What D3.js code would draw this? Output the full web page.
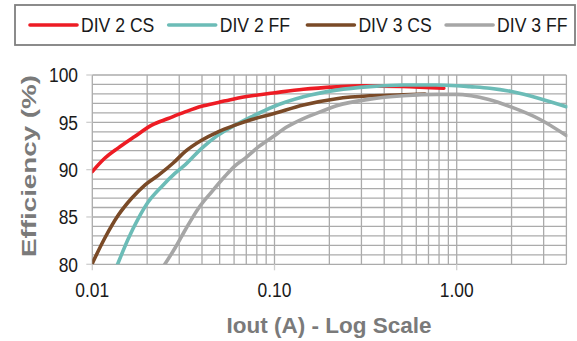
<!DOCTYPE html>
<html>
<head>
<meta charset="utf-8">
<script src="https://cdn.jsdelivr.net/npm/d3@7"></script>
<style>
  html, body { margin: 0; padding: 0; background: #fff; }
  text { font-family: "Liberation Sans", Arial, sans-serif; }
</style>
</head>
<body>
<div id="chart"></div>
<script>
// efficiency curves, Iout in A
const seriesNames = ["DIV 2 CS", "DIV 2 FF", "DIV 3 CS", "DIV 3 FF"];
const seriesColors = ["#ed1c24", "#6cbcb7", "#7a4a27", "#a6a6a6"];

const div2csX = [0.01, 0.0117, 0.0139, 0.0171, 0.0212, 0.0261, 0.0323, 0.0398, 0.0492, 0.0607, 0.075, 0.0984, 0.144, 0.219, 0.295, 0.5, 0.85];
const div2csY = [89.8, 91.2, 92.3, 93.5, 94.7, 95.4, 96.1, 96.7, 97.1, 97.5, 97.8, 98.1, 98.5, 98.75, 98.85, 98.8, 98.6];

const div2ffX = [0.0137, 0.0158, 0.0179, 0.0203, 0.024, 0.0284, 0.0323, 0.0398, 0.049, 0.0607, 0.075, 0.0984, 0.144, 0.219, 0.334, 0.509, 0.776, 1.0, 1.18, 1.52, 2.0, 2.87, 4.0];
const div2ffY = [79.9, 82.75, 84.85, 86.6, 88.2, 89.6, 90.5, 92.25, 93.65, 94.7, 95.6, 96.65, 97.7, 98.4, 98.77, 98.94, 98.94, 98.87, 98.77, 98.6, 98.25, 97.5, 96.65];

const div3csX = [0.01, 0.0117, 0.0139, 0.0164, 0.0195, 0.023, 0.0278, 0.0323, 0.0398, 0.049, 0.0607, 0.075, 0.0984, 0.144, 0.219, 0.334, 0.509, 0.67];
const div3csY = [80.1, 82.75, 85.2, 86.95, 88.4, 89.4, 90.7, 91.9, 93.1, 94.0, 94.7, 95.3, 95.9, 96.83, 97.5, 97.8, 97.9, 98.0];

const div3ffX = [0.0248, 0.0284, 0.0323, 0.0382, 0.0452, 0.0535, 0.0607, 0.0689, 0.0815, 0.0984, 0.1167, 0.144, 0.178, 0.219, 0.334, 0.509, 0.776, 1.0, 1.2, 1.5, 2.0, 2.87, 4.0];
const div3ffY = [79.9, 81.7, 83.6, 85.9, 87.65, 89.3, 90.4, 91.2, 92.4, 93.5, 94.5, 95.4, 96.1, 96.75, 97.45, 97.8, 97.95, 97.95, 97.8, 97.4, 96.6, 95.3, 93.6];

const xTicks = [0.01, 0.1, 1];
const xTickLabels = ["0.01", "0.10", "1.00"];
const yTicks = [80, 85, 90, 95, 100];

const allX = [div2csX, div2ffX, div3csX, div3ffX];
const allY = [div2csY, div2ffY, div3csY, div3ffY];

const width = 577, height = 341;
const plot = { left: 92.3, right: 566.4, top: 75, bottom: 264.3 };

const svg = d3.select("#chart").append("svg")
  .attr("width", width)
  .attr("height", height);

const x = d3.scaleLog().domain([0.01, 4]).range([plot.left, plot.right]);
const y = d3.scaleLinear().domain([80, 100]).range([plot.bottom, plot.top]);

// squeeze text a bit, the source font is narrower than Liberation
function squeeze(sel, k) {
  sel.each(function () {
    const w = this.getComputedTextLength();
    d3.select(this).attr("textLength", w * k).attr("lengthAdjust", "spacingAndGlyphs");
  });
}

// grid
const minorX = [];
[0.01, 0.1, 1].forEach(dec => {
  for (let m = 1; m <= 9; m++) {
    const v = +(dec * m).toPrecision(3);
    if (v <= 4) minorX.push(v);
  }
});
const grid = svg.append("g").attr("stroke", "#ababab").attr("stroke-width", 1.3);
grid.selectAll(".vx").data(minorX).join("line")
  .attr("x1", d => x(d)).attr("x2", d => x(d))
  .attr("y1", plot.top).attr("y2", plot.bottom);
grid.selectAll(".hy").data(d3.range(80, 101, 1)).join("line")
  .attr("x1", plot.left).attr("x2", plot.right)
  .attr("y1", d => y(d)).attr("y2", d => y(d));

// small tick marks
const ticks = svg.append("g").attr("stroke", "#cfcfcf").attr("stroke-width", 1.3);
ticks.selectAll(".tx").data(xTicks).join("line")
  .attr("x1", d => x(d)).attr("x2", d => x(d))
  .attr("y1", plot.bottom).attr("y2", plot.bottom + 6);
ticks.selectAll(".ty").data(yTicks).join("line")
  .attr("x1", plot.left - 6).attr("x2", plot.left)
  .attr("y1", d => y(d)).attr("y2", d => y(d));

// tick labels
svg.append("g").selectAll("text").data(yTicks).join("text")
  .attr("x", 78).attr("y", d => y(d)).attr("dy", "0.36em")
  .attr("text-anchor", "end").attr("font-size", 20).attr("fill", "#1a1a1a")
  .text(d => d).call(squeeze, 0.87);
svg.append("g").selectAll("text").data(xTicks).join("text")
  .attr("x", d => x(d)).attr("y", 297)
  .attr("text-anchor", "middle").attr("font-size", 20).attr("fill", "#1a1a1a")
  .text((d, i) => xTickLabels[i]).call(squeeze, 0.87);

// axis titles
svg.append("text")
  .attr("x", 329).attr("y", 333)
  .attr("text-anchor", "middle").attr("font-size", 22.5).attr("font-weight", "bold")
  .attr("fill", "#7a7a7a")
  .text("Iout (A) - Log Scale");
svg.append("text")
  .attr("transform", "translate(36,166) rotate(-90)")
  .attr("text-anchor", "middle").attr("font-size", 21).attr("font-weight", "bold")
  .attr("fill", "#7a7a7a")
  .attr("textLength", 182).attr("lengthAdjust", "spacingAndGlyphs")
  .text("Efficiency (%)");

// curves
svg.append("clipPath").attr("id", "clip").append("rect")
  .attr("x", plot.left).attr("y", plot.top - 4)
  .attr("width", plot.right - plot.left + 1).attr("height", plot.bottom - plot.top + 4);

const line = d3.line().curve(d3.curveMonotoneX)
  .x(d => x(d[0])).y(d => y(d[1]));

const curves = svg.append("g").attr("clip-path", "url(#clip)");
seriesNames.forEach((name, i) => {
  const pts = allX[i].map((v, j) => [v, allY[i][j]]);
  curves.append("path")
    .attr("d", line(pts))
    .attr("fill", "none")
    .attr("stroke", seriesColors[i])
    .attr("stroke-width", 3.6)
    .attr("stroke-linecap", "round");
});

// legend
const legend = svg.append("g");
legend.append("rect")
  .attr("x", 15).attr("y", 5).attr("width", 560).attr("height", 40)
  .attr("fill", "#fff").attr("stroke", "#7f7f7f").attr("stroke-width", 1.8);
const item = legend.selectAll(".item").data(seriesNames).join("g")
  .attr("transform", (d, i) => `translate(${30 + i * 138.7},0)`);
item.append("line")
  .attr("x1", 0).attr("x2", 47).attr("y1", 25).attr("y2", 25)
  .attr("stroke", (d, i) => seriesColors[i]).attr("stroke-width", 3.6)
  .attr("stroke-linecap", "round");
item.append("text")
  .attr("x", 51).attr("y", 31.5)
  .attr("font-size", 20).attr("fill", "#1a1a1a")
  .text(d => d).call(squeeze, 0.88);
</script>
</body>
</html>
